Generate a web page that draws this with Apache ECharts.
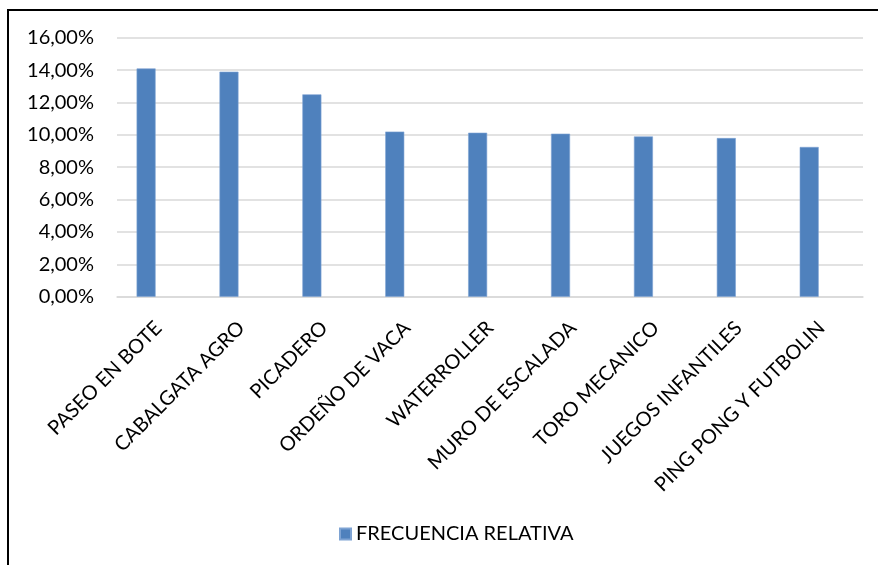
<!DOCTYPE html>
<html>
<head>
<meta charset="utf-8">
<script src="https://cdn.jsdelivr.net/npm/echarts@6/dist/echarts.min.js"></script>
<style>
html,body{margin:0;padding:0;background:#fff;}
#chart{width:878px;height:565px;}
</style>
</head>
<body>
<div id="chart"></div>
<script>
const categories = ['PASEO EN BOTE','CABALGATA AGRO','PICADERO','ORDEÑO DE VACA','WATERROLLER','MURO DE ESCALADA','TORO MECANICO','JUEGOS INFANTILES','PING PONG Y FUTBOLIN'];
const frecuenciaRelativa = [14.1, 13.9, 12.5, 10.2, 10.13, 10.07, 9.9, 9.8, 9.25];
const emptySeries = ['-','-','-','-','-','-','-','-','-'];
const seriesName = 'FRECUENCIA RELATIVA';

const FONT = 'Lato';
const chart = echarts.init(document.getElementById('chart'), null, {renderer:'canvas'});
chart.setOption({
  backgroundColor:'#fff',
  animation:false,
  textStyle:{fontFamily:FONT},
  grid:{left:117, right:15, top:37.7, bottom:268.3, containLabel:false},
  legend:{
    data:[seriesName], left:334, top:519,
    itemWidth:11, itemHeight:11, icon:'rect', itemGap:8,
    textStyle:{fontFamily:FONT, fontSize:20, color:'#000'}
  },
  xAxis:{
    type:'category', data:categories,
    axisLine:{show:true, lineStyle:{color:'#d9d9d9', width:1.5}},
    axisTick:{show:false},
    axisLabel:{rotate:45, interval:0, margin:28, fontFamily:FONT, fontSize:20, color:'#000'}
  },
  yAxis:{
    type:'value', min:0, max:16, interval:2,
    axisLine:{show:false}, axisTick:{show:false},
    splitLine:{lineStyle:{color:'#d9d9d9', width:1.5}},
    axisLabel:{margin:23, fontFamily:FONT, fontSize:20, color:'#000',
      formatter:function(v){return v.toFixed(2).replace('.', ',')+'%';}}
  },
  series:[
    {name:seriesName, type:'bar', data:frecuenciaRelativa, barWidth:19, barGap:'30%',
     itemStyle:{color:'#4f81bd', borderColor:'#7ea3d3', borderWidth:0.6}},
    {name:'empty', type:'bar', data:emptySeries, barWidth:19}
  ],
  graphic:[{type:'rect', shape:{x:8, y:10, width:900, height:600},
    style:{fill:null, stroke:'#000', lineWidth:2}, silent:true, z:100}]
});
</script>
</body>
</html>
